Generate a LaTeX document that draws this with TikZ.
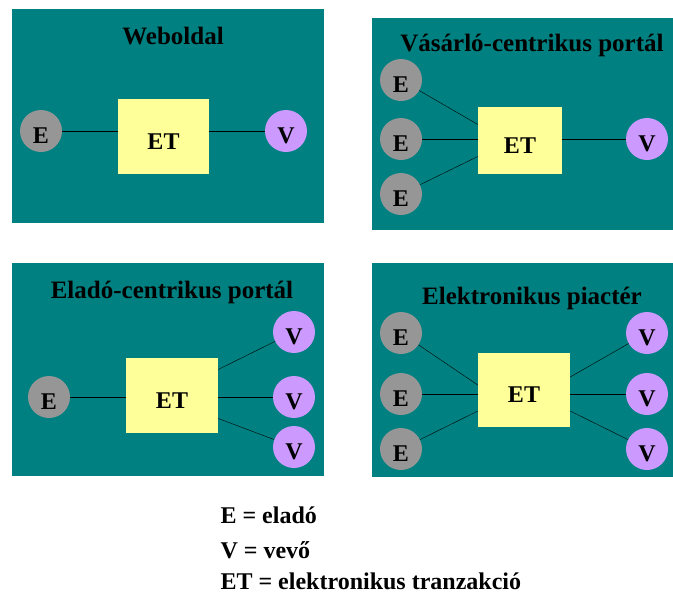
\documentclass[tikz,border=0pt]{standalone}
\usepackage{fontspec}
\setmainfont{Liberation Serif}
\usepackage{tikz}

\definecolor{panel}{HTML}{008080}
\definecolor{elado}{HTML}{969696}
\definecolor{vevo}{HTML}{CC99FF}
\definecolor{tranz}{HTML}{FFFF99}

\begin{document}
\begin{tikzpicture}[x=1pt,y=-1pt,
  kor/.style={circle,inner sep=0pt,minimum size=42pt,text height=25pt,text depth=0pt,font=\bfseries\fontsize{24}{28}\selectfont},
  ek/.style={kor,fill=elado},
  vk/.style={kor,fill=vevo},
  et/.style={rectangle,fill=tranz,inner sep=0pt,text height=25pt,text depth=0pt,font=\bfseries\fontsize{24}{28}\selectfont},
  cim/.style={anchor=base,font=\bfseries\fontsize{25}{30}\selectfont},
  jel/.style={anchor=base west,font=\bfseries\fontsize{24}{28}\selectfont}]
\useasboundingbox (0,0) rectangle (673,595);
\fill[panel] (12,9) rectangle (324,223);
\fill[panel] (372,18) rectangle (673,230);
\fill[panel] (12,263) rectangle (324,476);
\fill[panel] (372,263) rectangle (673,477);
% Weboldal
\node[cim] (c1) at (173,44) {Weboldal};
\node[et,minimum width=91pt,minimum height=75pt] (et1) at (163.5,136.5) {ET};
\node[ek] (e1) at (41,131) {E};
\node[vk] (v1) at (286,131) {V};
\draw (e1) -- (e1 -| et1.west);
\draw (v1) -- (v1 -| et1.east);
% Vasarlo-centrikus portal
\node[cim] (c2) at (532,51) {Vásárló-centrikus portál};
\node[et,minimum width=84pt,minimum height=67pt] (et2) at (520,140.5) {ET};
\node[ek] (e21) at (401,80) {E};
\node[ek] (e22) at (401,139) {E};
\node[ek] (e23) at (401,194) {E};
\node[vk] (v2) at (647,139) {V};
\draw (e21) -- ([yshift=16pt]et2.west);
\draw (e22) -- (e22 -| et2.west);
\draw (e23) -- ([yshift=-16pt]et2.west);
\draw (v2) -- (v2 -| et2.east);
% Elado-centrikus portal
\node[cim] (c3) at (172,298) {Eladó-centrikus portál};
\node[et,minimum width=92pt,minimum height=75pt] (et3) at (172,395.5) {ET};
\node[ek] (e3) at (49,397) {E};
\node[vk] (v31) at (294,332) {V};
\node[vk] (v32) at (294,397) {V};
\node[vk] (v33) at (294,447) {V};
\draw (e3) -- (e3 -| et3.west);
\draw (v31) -- ([yshift=26pt]et3.east);
\draw (v32) -- (v32 -| et3.east);
\draw (v33) -- ([yshift=-23pt]et3.east);
% Elektronikus piacter
\node[cim] (c4) at (532,304) {Elektronikus piactér};
\node[et,minimum width=92pt,minimum height=74pt] (et4) at (524,390) {ET};
\foreach \i/\y in {1/333,2/394,3/449} {
  \node[ek] (e4\i) at (401,\y) {E};
  \node[vk] (v4\i) at (647,\y) {V};
}
\draw (e41) -- ([yshift=5pt]et4.west);
\draw (e42) -- (e42 -| et4.west);
\draw (e43) -- ([yshift=-21pt]et4.west);
\draw (v41) -- ([yshift=13pt]et4.east);
\draw (v42) -- (v42 -| et4.east);
\draw (v43) -- ([yshift=-21pt]et4.east);
% jelmagyarazat
\node[jel] (j1) at (217,523) {E = eladó};
\node[jel] (j2) at (217,558) {V = vevő};
\node[jel] (j3) at (217,589) {ET = elektronikus tranzakció};
\end{tikzpicture}
\end{document}
